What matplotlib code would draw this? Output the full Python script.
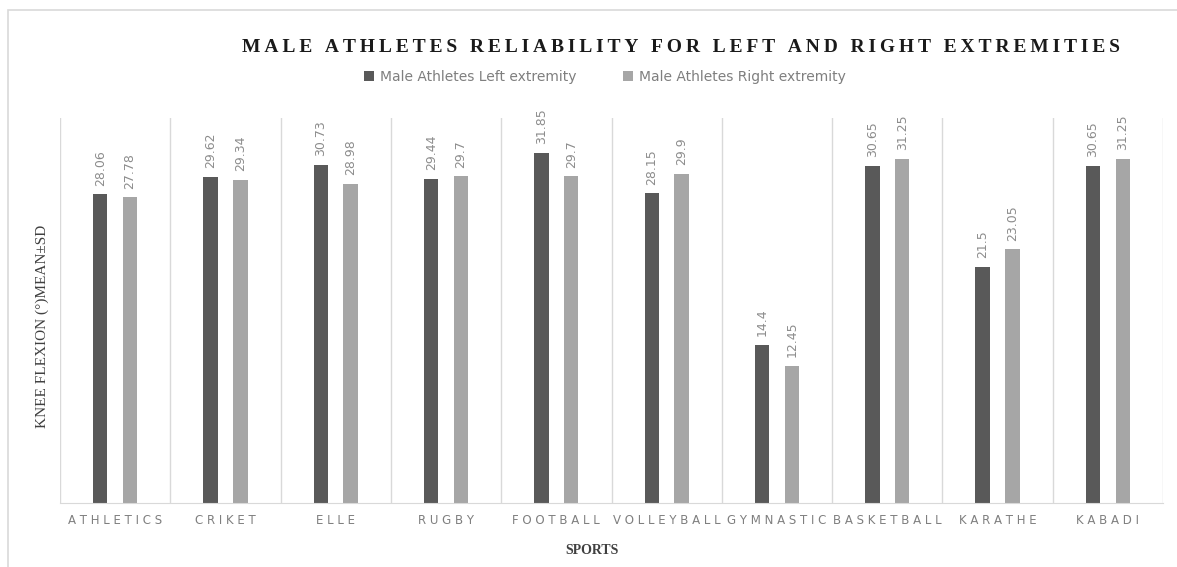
import matplotlib
matplotlib.use("Agg")
import matplotlib.pyplot as plt
import numpy as np
from matplotlib.patches import Rectangle

sports = ["ATHLETICS", "CRIKET", "ELLE", "RUGBY", "FOOTBALL", "VOLLEYBALL",
          "GYMNASTIC", "BASKETBALL", "KARATHE", "KABADI"]
left_vals = [28.06, 29.62, 30.73, 29.44, 31.85, 28.15, 14.4, 30.65, 21.5, 30.65]
right_vals = [27.78, 29.34, 28.98, 29.7, 29.7, 29.9, 12.45, 31.25, 23.05, 31.25]
left_labels = ["28.06", "29.62", "30.73", "29.44", "31.85", "28.15", "14.4", "30.65", "21.5", "30.65"]
right_labels = ["27.78", "29.34", "28.98", "29.7", "29.7", "29.9", "12.45", "31.25", "23.05", "31.25"]

dark = "#595959"
light = "#a6a6a6"
serif = ["Liberation Serif", "DejaVu Serif"]

fig = plt.figure(figsize=(11.77, 5.67), dpi=100)
# outer frame
fig.patches.append(Rectangle((8 / 1177, -0.01), 1.05, 1 - 10 / 567 + 0.01,
                             transform=fig.transFigure, fill=False,
                             edgecolor="#d9d9d9", linewidth=1.2))

ax = fig.add_axes([60 / 1177, (567 - 503) / 567, (1163 - 60) / 1177, (503 - 118) / 567])

x = np.arange(len(sports))
w = 0.13
ax.bar(x - 0.135, left_vals, w, color=dark, label="Male Athletes Left extremity")
ax.bar(x + 0.135, right_vals, w, color=light, label="Male Athletes Right extremity")

for i in range(len(sports)):
    ax.text(x[i] - 0.135, left_vals[i] + 0.8, left_labels[i], rotation=90,
            ha="center", va="bottom", fontsize=9, color="#8c8c8c")
    ax.text(x[i] + 0.135, right_vals[i] + 0.8, right_labels[i], rotation=90,
            ha="center", va="bottom", fontsize=9, color="#8c8c8c")

# category separators
for b in np.arange(len(sports) + 1) - 0.5:
    ax.axvline(b, color="#d9d9d9", linewidth=1, zorder=0)

ax.set_xlim(-0.5, len(sports) - 0.5)
ax.set_ylim(0, 35)
ax.set_yticks([])
ax.set_xticks(x)
ax.set_xticklabels([" ".join(s) for s in sports], fontsize=8.5, color="#7f7f7f")
ax.tick_params(axis="x", length=0, pad=8)
for s in ["top", "right", "left"]:
    ax.spines[s].set_visible(False)
ax.spines["bottom"].set_color("#d9d9d9")

# letter-spaced title
title = "MALE ATHLETES RELIABILITY FOR LEFT AND RIGHT EXTREMITIES"
title_spaced = "\u2009 \u2009".join("\u2009".join(word) for word in title.split(" "))
fig.text(681 / 1177, 1 - 47 / 567, title_spaced,
         ha="center", va="center", fontsize=14, fontweight="bold",
         family=serif, color="#1a1a1a")
fig.text(592 / 1177, 1 - 551 / 567, "SPORTS", ha="center", va="center",
         fontsize=10, fontweight="bold", family=serif, color="#404040")
fig.text(42 / 1177, 1 - 326 / 567, "KNEE FLEXION (°)MEAN±SD", rotation=90,
         ha="center", va="center", fontsize=11, family=serif, color="#404040")

fig.legend(loc="center", bbox_to_anchor=(605 / 1177, 1 - 77 / 567), ncol=2,
           frameon=False, fontsize=10, handlelength=0.7, handleheight=0.7,
           columnspacing=3.4, handletextpad=0.4, labelcolor="#7f7f7f")

fig.savefig("out.png", dpi=100, facecolor="white")
